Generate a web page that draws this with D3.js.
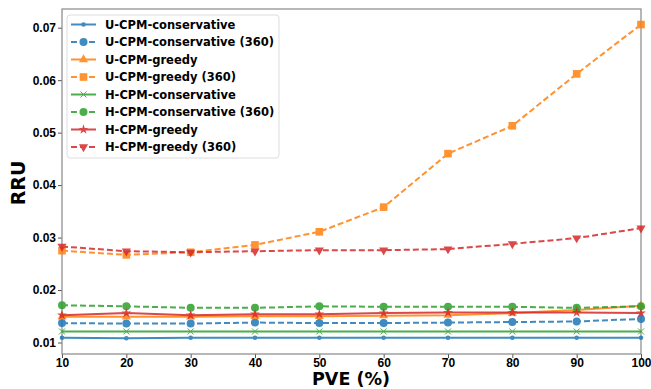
<!DOCTYPE html>
<html>
<head>
<meta charset="utf-8">
<script src="https://cdn.jsdelivr.net/npm/d3@7"></script>
<style>
  body { margin: 0; background: #fff; }
  svg { font-family: "DejaVu Sans", sans-serif; font-weight: bold; }
</style>
</head>
<body>
<svg width="651" height="389"></svg>
<script>
// data
const pve = [10, 20, 30, 40, 50, 60, 70, 80, 90, 100];
const uConservative     = [0.0109, 0.0108, 0.0109, 0.0109, 0.0109, 0.0109, 0.0109, 0.0109, 0.0109, 0.0109];
const uConservative360  = [0.0137, 0.0136, 0.0136, 0.0138, 0.0137, 0.0137, 0.0138, 0.0139, 0.0140, 0.0145];
const uGreedy           = [0.0149, 0.0149, 0.0149, 0.0150, 0.0150, 0.0151, 0.0152, 0.0156, 0.0162, 0.0170];
const uGreedy360        = [0.0275, 0.0267, 0.0272, 0.0286, 0.0311, 0.0358, 0.0460, 0.0513, 0.0612, 0.0706];
const hConservative     = [0.0121, 0.0121, 0.0121, 0.0121, 0.0121, 0.0121, 0.0121, 0.0121, 0.0121, 0.0121];
const hConservative360  = [0.0171, 0.0169, 0.0166, 0.0166, 0.0169, 0.0168, 0.0168, 0.0168, 0.0166, 0.0169];
const hGreedy           = [0.0152, 0.0156, 0.0152, 0.0154, 0.0154, 0.0156, 0.0157, 0.0157, 0.0157, 0.0156];
const hGreedy360        = [0.0283, 0.0274, 0.0272, 0.0274, 0.0276, 0.0276, 0.0278, 0.0288, 0.0299, 0.0318];
const yTicks = [0.01, 0.02, 0.03, 0.04, 0.05, 0.06, 0.07];

const series = [
  {name: "U-CPM-conservative",       values: uConservative,    color: "#1f77b4", dash: false, marker: "dot"},
  {name: "U-CPM-conservative (360)", values: uConservative360, color: "#1f77b4", dash: true,  marker: "circle"},
  {name: "U-CPM-greedy",             values: uGreedy,          color: "#ff7f0e", dash: false, marker: "tri"},
  {name: "U-CPM-greedy (360)",       values: uGreedy360,       color: "#ff7f0e", dash: true,  marker: "square"},
  {name: "H-CPM-conservative",       values: hConservative,    color: "#2ca02c", dash: false, marker: "x"},
  {name: "H-CPM-conservative (360)", values: hConservative360, color: "#2ca02c", dash: true,  marker: "circle"},
  {name: "H-CPM-greedy",             values: hGreedy,          color: "#d62728", dash: false, marker: "star"},
  {name: "H-CPM-greedy (360)",       values: hGreedy360,       color: "#d62728", dash: true,  marker: "trid"}
];

const margin = {left: 62, right: 10, top: 9, bottom: 35};
const W = 651, H = 389;
const svg = d3.select("svg");

const x = d3.scaleLinear().domain([10, 100]).range([margin.left, W - margin.right]);
const y = d3.scaleLinear().domain([0.01, 0.07]).range([342.5, 27.7]);
const yBottom = 354;

const line = d3.line().x((d, i) => x(pve[i])).y(d => y(d));

// axes
svg.append("g")
  .attr("transform", `translate(0,${yBottom})`)
  .call(d3.axisBottom(x).tickValues(pve).tickSize(4).tickFormat(d3.format("d")))
  .call(g => g.selectAll("text").attr("font-size", 12).attr("fill", "#000").attr("y", 4))
  .call(g => g.selectAll("line").attr("stroke", "#555"))
  .call(g => g.select(".domain").remove());

svg.append("g")
  .attr("transform", `translate(${margin.left},0)`)
  .call(d3.axisLeft(y).tickValues(yTicks).tickSize(4).tickFormat(d3.format(".2f")))
  .call(g => g.selectAll("text").attr("font-size", 12).attr("fill", "#000").attr("x", -6))
  .call(g => g.selectAll("line").attr("stroke", "#555"))
  .call(g => g.select(".domain").remove());

// frame
svg.append("rect")
  .attr("x", margin.left).attr("y", margin.top)
  .attr("width", W - margin.right - margin.left)
  .attr("height", yBottom - margin.top)
  .attr("fill", "none").attr("stroke", "#888").attr("stroke-width", 1.2);

svg.append("text").attr("x", 351).attr("y", 385)
  .attr("text-anchor", "middle").attr("font-size", 17.5).text("PVE (%)");
svg.append("text")
  .attr("transform", `translate(25,${183}) rotate(-90)`)
  .attr("text-anchor", "middle").attr("font-size", 19).text("RRU");

// marker drawing
function drawMarker(g, type, color) {
  if (type === "dot") {
    g.append("circle").attr("r", 2.3).attr("fill", color);
  } else if (type === "circle") {
    g.append("circle").attr("r", 4).attr("fill", color);
  } else if (type === "square") {
    g.append("rect").attr("x", -3.8).attr("y", -3.8).attr("width", 7.6).attr("height", 7.6).attr("fill", color);
  } else if (type === "tri") {
    g.append("path").attr("d", d3.symbol(d3.symbolTriangle, 36)()).attr("fill", color);
  } else if (type === "trid") {
    g.append("path").attr("d", d3.symbol(d3.symbolTriangle, 36)()).attr("transform", "rotate(180)").attr("fill", color);
  } else if (type === "star") {
    g.append("path").attr("d", d3.symbol(d3.symbolStar, 30)()).attr("fill", color);
  } else if (type === "x") {
    g.append("path").attr("d", "M-3,-3L3,3M-3,3L3,-3").attr("stroke", color).attr("stroke-width", 1);
  }
}

const plot = svg.append("g");
series.forEach(s => {
  const g = plot.append("g").attr("opacity", 0.85);
  g.append("path")
    .datum(s.values)
    .attr("d", line)
    .attr("fill", "none")
    .attr("stroke", s.color)
    .attr("stroke-width", 2)
    .attr("stroke-dasharray", s.dash ? "6,3" : null);
  g.selectAll(".m").data(s.values).enter().append("g")
    .attr("transform", (d, i) => `translate(${x(pve[i])},${y(d)})`)
    .each(function () { drawMarker(d3.select(this), s.marker, s.color); });
});

// legend
const lg = svg.append("g").attr("transform", "translate(67,15)");
lg.append("rect").attr("width", 212).attr("height", 143).attr("rx", 3)
  .attr("fill", "#fff").attr("fill-opacity", 0.8).attr("stroke", "#ddd");
series.forEach((s, i) => {
  const row = lg.append("g").attr("transform", `translate(0,${9.5 + i * 17.5})`).attr("opacity", 0.85);
  row.append("line").attr("x1", 4).attr("x2", 29).attr("y1", 0).attr("y2", 0)
    .attr("stroke", s.color).attr("stroke-width", 2)
    .attr("stroke-dasharray", s.dash ? "6,3" : null);
  drawMarker(row.append("g").attr("transform", "translate(16.5,0)"), s.marker, s.color);
  lg.append("text").attr("x", 38).attr("y", 9.5 + i * 17.5).attr("dy", "0.35em")
    .attr("font-size", 11.5).text(s.name);
});
</script>
</body>
</html>
